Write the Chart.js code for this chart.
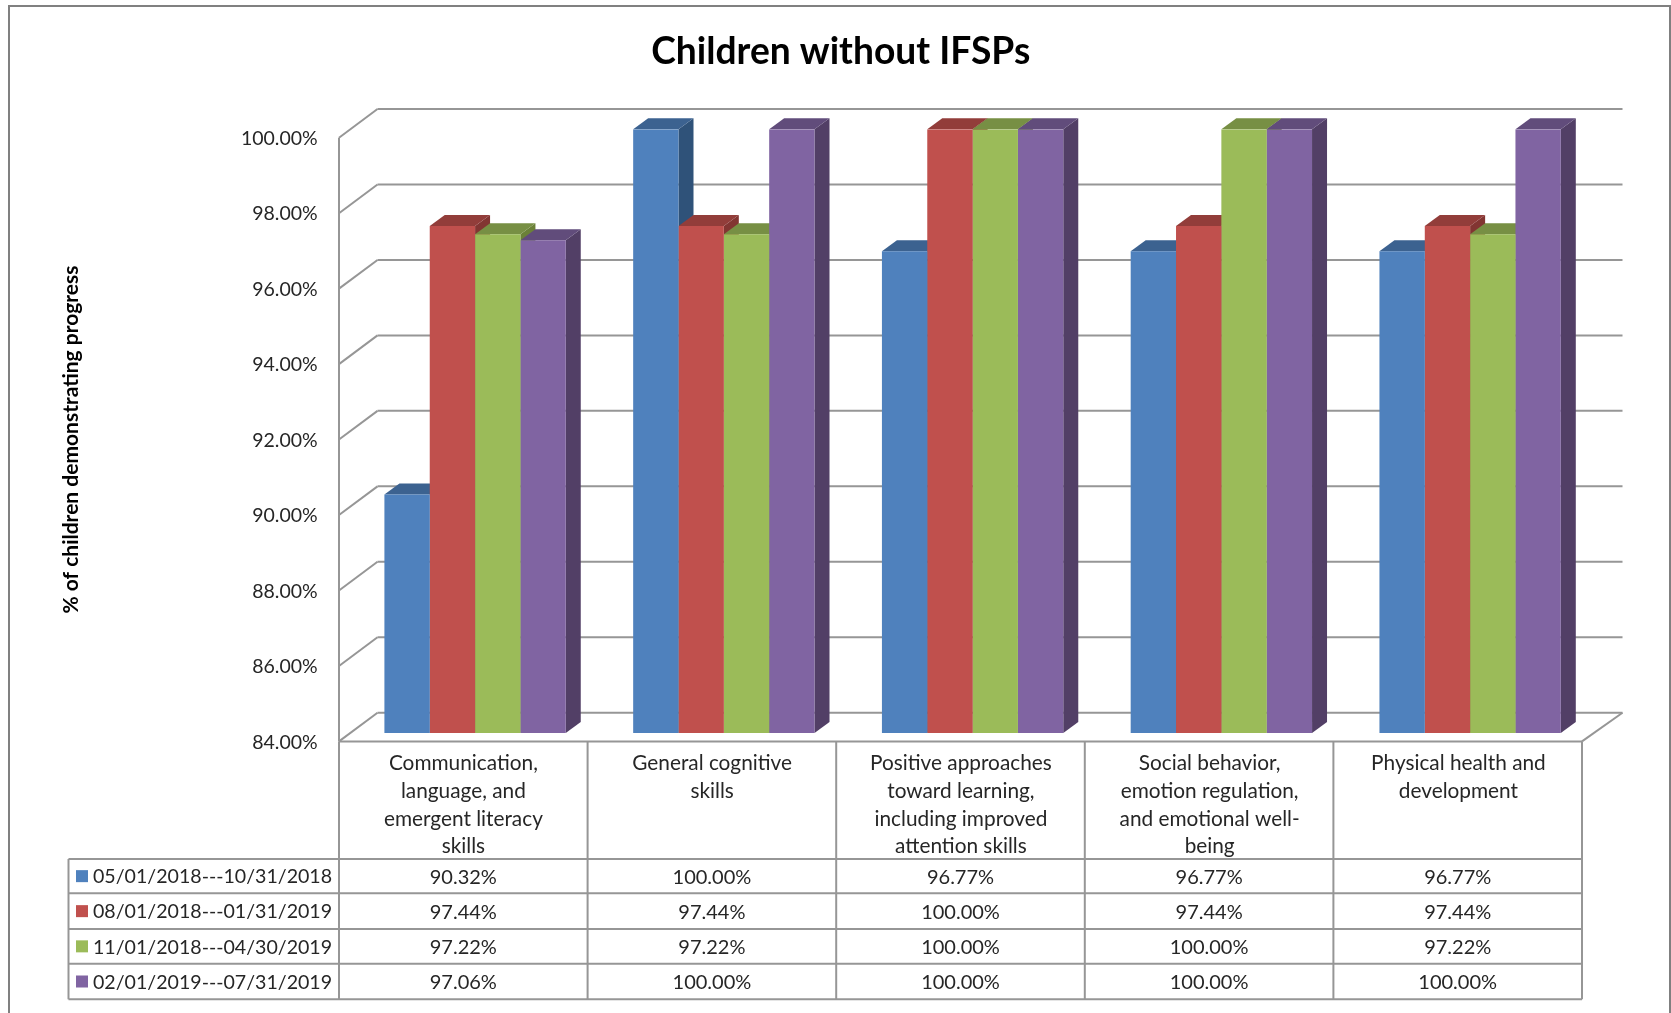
<!DOCTYPE html>
<html>
<head>
<meta charset="utf-8">
<title>Children without IFSPs</title>
<script src="https://cdn.jsdelivr.net/npm/chart.js@4"></script>
<style>
    html, body { margin: 0; padding: 0; background: #fff; }
    canvas { display: block; }
</style>
</head>
<body>
<canvas id="progressChart" width="1671" height="1013"></canvas>
<script>
// Outcome areas, wrapped the way the axis shows them
const categories = [
    ['Communication,', 'language, and', 'emergent literacy', 'skills'],
    ['General cognitive', 'skills'],
    ['Positive approaches', 'toward learning,', 'including improved', 'attention skills'],
    ['Social behavior,', 'emotion regulation,', 'and emotional well-', 'being'],
    ['Physical health and', 'development']
];

const periods = [
    '05/01/2018---10/31/2018',
    '08/01/2018---01/31/2019',
    '11/01/2018---04/30/2019',
    '02/01/2019---07/31/2019'
];

const period1 = [90.32, 100.00, 96.77, 96.77, 96.77];
const period2 = [97.44, 97.44, 100.00, 97.44, 97.44];
const period3 = [97.22, 97.22, 100.00, 100.00, 97.22];
const period4 = [97.06, 100.00, 100.00, 100.00, 100.00];

const frontColors = ['#4f81bd', '#c0504d', '#9bbb59', '#8064a2'];
const topColors = ['#3c6290', '#923d3a', '#778f44', '#614c7b'];
const sideColors = ['#2f5279', '#823532', '#6b8138', '#523f66'];

const yMin = 84;
const yMax = 100;
const yStep = 2;

const FONT = 'Lato, Carlito, "Open Sans", sans-serif';
const TEXT = '#262626';
const LINE = '#969696';

// Offsets of the box around the bars, measured from the plane of the bar fronts
const FRONT = { dx: -11.7, dy: 8.4 };
const BACK = { dx: 26.8, dy: -20.3 };
const BAR_DEPTH = { dx: 15, dy: -11 };

// Data table below the plot
const TABLE_LEFT = 68.5;
const TABLE_ROWS = [859, 893.3, 929, 963.7, 999.3];

function formatPercent(v) {
    return v.toFixed(2) + '%';
}

function strokeLine(ctx, x1, y1, x2, y2) {
    ctx.beginPath();
    ctx.moveTo(x1, y1);
    ctx.lineTo(x2, y2);
    ctx.stroke();
}

function fillQuad(ctx, color, pts) {
    ctx.fillStyle = color;
    ctx.beginPath();
    ctx.moveTo(pts[0], pts[1]);
    ctx.lineTo(pts[2], pts[3]);
    ctx.lineTo(pts[4], pts[5]);
    ctx.lineTo(pts[6], pts[7]);
    ctx.closePath();
    ctx.fill();
}

/**
 * Outer frame, side wall, back wall and floor, painted behind the bars
 */
function drawWalls(chart) {
    const { ctx, chartArea } = chart;
    const y = chart.scales.y;
    const frontLeft = chartArea.left + FRONT.dx;
    const frontRight = chartArea.right + FRONT.dx - 0.8;
    const backLeft = chartArea.left + BACK.dx;
    const backRight = chartArea.right + BACK.dx + 1.2;

    ctx.save();
    ctx.strokeStyle = '#808080';
    ctx.lineWidth = 2;
    ctx.strokeRect(9, 6, 1661, 1020);

    ctx.strokeStyle = LINE;
    ctx.lineWidth = 2;
    y.ticks.forEach(t => {
        const py = y.getPixelForValue(t.value);
        strokeLine(ctx, frontLeft, py + FRONT.dy, backLeft, py + BACK.dy);
        strokeLine(ctx, backLeft, py + BACK.dy, backRight, py + BACK.dy);
    });
    const floor = y.getPixelForValue(yMin);
    strokeLine(ctx, backRight, floor + BACK.dy, frontRight, floor + FRONT.dy);
    strokeLine(ctx, frontLeft, y.getPixelForValue(yMax) + FRONT.dy, frontLeft, floor + FRONT.dy);
    ctx.restore();
}

/**
 * Top and side faces of every bar, left to right so later bars overlap earlier ones.
 * The flat front faces are drawn by Chart.js on top of these.
 */
function drawBarFaces(chart) {
    const { ctx } = chart;
    const count = chart.data.labels.length;
    const dx = BAR_DEPTH.dx;
    const dy = BAR_DEPTH.dy;

    for (let i = 0; i < count; i++) {
        chart.data.datasets.forEach((ds, d) => {
            const bar = chart.getDatasetMeta(d).data[i];
            const left = bar.x - bar.width / 2;
            const right = bar.x + bar.width / 2;
            fillQuad(ctx, sideColors[d], [right, bar.y, right + dx, bar.y + dy, right + dx, bar.base + dy, right, bar.base]);
            fillQuad(ctx, topColors[d], [left, bar.y, left + dx, bar.y + dy, right + dx, bar.y + dy, right, bar.y]);
        });
    }
}

/**
 * Data table under the plot: rows per period, legend keys in the first column
 */
function drawTable(chart) {
    const { ctx, chartArea } = chart;
    const y = chart.scales.y;
    const frontLeft = chartArea.left + FRONT.dx;
    const frontRight = chartArea.right + FRONT.dx - 0.8;
    const tableTop = y.getPixelForValue(yMin) + FRONT.dy;
    const colWidth = (frontRight - frontLeft) / chart.data.labels.length;
    const tableBottom = TABLE_ROWS[TABLE_ROWS.length - 1];

    ctx.save();
    ctx.strokeStyle = LINE;
    ctx.lineWidth = 2;
    strokeLine(ctx, frontLeft, tableTop, frontRight, tableTop);
    TABLE_ROWS.forEach(py => strokeLine(ctx, TABLE_LEFT, py, frontRight, py));
    strokeLine(ctx, TABLE_LEFT, TABLE_ROWS[0], TABLE_LEFT, tableBottom);
    for (let c = 0; c <= chart.data.labels.length; c++) {
        const px = frontLeft + c * colWidth;
        strokeLine(ctx, px, tableTop, px, tableBottom);
    }

    ctx.textBaseline = 'middle';
    chart.data.datasets.forEach((ds, d) => {
        const mid = (TABLE_ROWS[d] + TABLE_ROWS[d + 1]) / 2;
        ctx.fillStyle = frontColors[d];
        ctx.fillRect(TABLE_LEFT + 7.5, mid - 6, 12, 12);
        ctx.fillStyle = TEXT;
        ctx.textAlign = 'left';
        ctx.font = '19.6px ' + FONT;
        ctx.fillText(ds.label, TABLE_LEFT + 24.5, mid + 1);
        ctx.textAlign = 'center';
        ctx.font = '20px ' + FONT;
        ds.data.forEach((v, c) => {
            ctx.fillText(formatPercent(v), frontLeft + (c + 0.5) * colWidth, mid + 1);
        });
    });
    ctx.restore();
}

function drawAxisTitle(chart) {
    const { ctx } = chart;
    const y = chart.scales.y;
    const mid = (y.getPixelForValue(yMin) + y.getPixelForValue(yMax)) / 2 + FRONT.dy;
    ctx.save();
    ctx.translate(71, mid);
    ctx.rotate(-Math.PI / 2);
    ctx.font = 'bold 21px ' + FONT;
    ctx.fillStyle = '#000';
    ctx.textAlign = 'center';
    ctx.textBaseline = 'middle';
    ctx.fillText('% of children demonstrating progress', 0, 0);
    ctx.restore();
}

const boxPlugin = {
    id: 'boxPlugin',
    beforeDatasetsDraw(chart) {
        drawWalls(chart);
        drawBarFaces(chart);
    },
    afterDraw(chart) {
        drawTable(chart);
        drawAxisTitle(chart);
    }
};

const datasetValues = [period1, period2, period3, period4];

new Chart(document.getElementById('progressChart').getContext('2d'), {
    type: 'bar',
    data: {
        labels: categories,
        datasets: periods.map((label, i) => ({
            label: label,
            data: datasetValues[i],
            base: yMin,
            backgroundColor: frontColors[i],
            borderWidth: 0,
            categoryPercentage: 0.729,
            barPercentage: 1
        }))
    },
    plugins: [boxPlugin],
    options: {
        responsive: false,
        animation: false,
        layout: { padding: { left: 87, right: 76.5, top: 0, bottom: 0 } },
        plugins: {
            legend: { display: false },
            tooltip: { enabled: false },
            title: {
                display: true,
                text: 'Children without IFSPs',
                color: '#000',
                font: { family: FONT, size: 37.2, weight: 'bold', lineHeight: 1.2 },
                padding: { top: 29.5, bottom: 55.2 }
            }
        },
        scales: {
            x: {
                grid: { display: false, drawTicks: false },
                border: { display: false },
                afterFit(scale) { scale.height = 280; },
                ticks: {
                    autoSkip: false,
                    maxRotation: 0,
                    minRotation: 0,
                    labelOffset: FRONT.dx,
                    padding: 17,
                    color: TEXT,
                    font: { family: FONT, size: 20.8, lineHeight: 1.325 }
                }
            },
            y: {
                min: yMin,
                max: yMax,
                grid: { display: false, drawTicks: false },
                border: { display: false },
                afterFit(scale) { scale.width = 263.7; },
                ticks: {
                    stepSize: yStep,
                    padding: 33,
                    labelOffset: FRONT.dy + 1,
                    color: TEXT,
                    font: { family: FONT, size: 19.5 },
                    callback: formatPercent
                }
            }
        }
    }
});
</script>
</body>
</html>
